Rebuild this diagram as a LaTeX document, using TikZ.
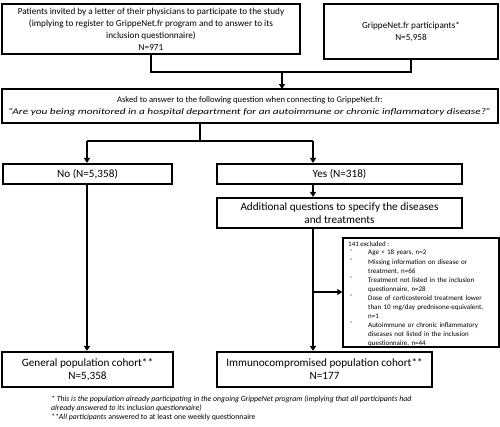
\documentclass[tikz,border=0pt]{standalone}
\usepackage{fontspec}
\setmainfont{Carlito}
\usetikzlibrary{arrows.meta}
\begin{document}
\begin{tikzpicture}[x=1pt,y=-1pt,
  box/.style={draw=black,line width=2.2pt,rectangle,align=center,inner sep=0pt},
  conn/.style={draw=black,line width=2.2pt},
  arr/.style={conn,-{Triangle[length=5pt,width=6pt]}},
  bigtext/.style={font=\fontsize{11.2}{13}\selectfont},
  midtext/.style={font=\fontsize{8.6}{12}\selectfont},
  smalltext/.style={font=\fontsize{9.2}{12}\selectfont}]
\useasboundingbox (0,0) rectangle (500,426);
\node[box,smalltext,minimum width=298pt,minimum height=50pt] (invited) at (151,29)
  {Patients invited by a letter of their physicians to participate to the study\\(implying to register to GrippeNet.fr program and to answer to its\\inclusion questionnaire)\\N=971};
\node[box,smalltext,minimum width=174pt,minimum height=55pt] (gpn) at (411,31.5)
  {GrippeNet.fr participants*\\N=5,958};
\node[box,midtext,minimum width=496pt,minimum height=34pt] (question) at (250,106)
  {Asked to answer to the following question when connecting to GrippeNet.fr:\\\resizebox{482pt}{\height}{\textit{"Are you being monitored in a hospital department for an autoimmune or chronic inflammatory disease?"}}};
\node[box,bigtext,minimum width=169pt,minimum height=20pt] (no) at (87.5,174) {No (N=5,358)};
\node[box,bigtext,minimum width=245pt,minimum height=20pt] (yes) at (339.5,174) {Yes (N=318)};
\node[box,bigtext,minimum width=245pt,minimum height=30pt] (add) at (339.5,213)
  {Additional questions to specify the diseases\\and treatments};
\node[draw=black,line width=1.4pt,minimum width=156pt,minimum height=109pt] (excl) at (421,292.5) {};
\begin{scope}[font=\fontsize{7}{9}\selectfont]
\node[anchor=north west,inner sep=0pt,align=left] (excltitle) at (348,241) {141 excluded :};
\node[anchor=north west,inner sep=0pt] (d1) at (350,250) {-};
\node[anchor=north west,inner sep=0pt,align=left,text width=128pt] (t1) at (368,250) {Age < 18 years, n=2};
\node[anchor=north west,inner sep=0pt] (d2) at (350,259) {-};
\node[anchor=north west,inner sep=0pt,align=left,text width=128pt] (t2) at (368,259) {Missing information on disease or\\treatment, n=66};
\node[anchor=north west,inner sep=0pt] (d3) at (350,277) {-};
\node[anchor=north west,inner sep=0pt,align=left,text width=128pt] (t3) at (368,277) {Treatment not listed in the inclusion\\questionnaire, n=28};
\node[anchor=north west,inner sep=0pt] (d4) at (350,295) {-};
\node[anchor=north west,inner sep=0pt,align=left,text width=128pt] (t4) at (368,295) {Dose of corticosteroid treatment lower\\than 10 mg/day prednisone-equivalent,\\n=1};
\node[anchor=north west,inner sep=0pt] (d5) at (350,322) {-};
\node[anchor=north west,inner sep=0pt,align=left,text width=128pt] (t5) at (368,322) {Autoimmune or chronic inflammatory\\diseases not listed in the inclusion\\questionnaire, n=44};
\end{scope}
\node[box,bigtext,minimum width=171pt,minimum height=35pt] (general) at (87.5,369.5)
  {General population cohort**\\N=5,358};
\node[box,bigtext,minimum width=215pt,minimum height=35pt] (immuno) at (324.5,369.5)
  {Immunocompromised population cohort**\\N=177};
\node[anchor=north west,inner sep=0pt,align=left,font=\fontsize{7.8}{8.6}\selectfont] (foot) at (51,396)
  {\textit{* This is the population already participating in the ongoing GrippeNet program (implying that all participants had}\\\textit{already answered to its inclusion questionnaire)}\\\textit{**All participants} answered to at least one weekly questionnaire};
% connectors
\coordinate (j1) at (151,72);
\coordinate (j2) at (411,72);
\coordinate (j3) at (282,72);
\draw[conn] (invited.south) -- (j1) -- (j2) -- (gpn.south);
\draw[arr] (j3) -- (282,89);
\coordinate (k1) at (200,141);
\coordinate (k2) at (87,141);
\coordinate (k3) at (313,141);
\draw[conn] (question.south -| k1) -- (k1);
\draw[conn] (k2) -- (k3);
\draw[arr] (k2) -- (no.north -| k2);
\draw[arr] (k3) -- (yes.north -| k3);
\draw[arr] (yes.south -| k3) -- (add.north -| k3);
\draw[arr] (no.south -| k2) -- (general.north -| k2);
\draw[arr] (add.south -| k3) -- (immuno.north -| k3);
\coordinate (m) at (313,292);
\draw[arr] (m) -- (excl.west |- m);
\end{tikzpicture}
\end{document}
